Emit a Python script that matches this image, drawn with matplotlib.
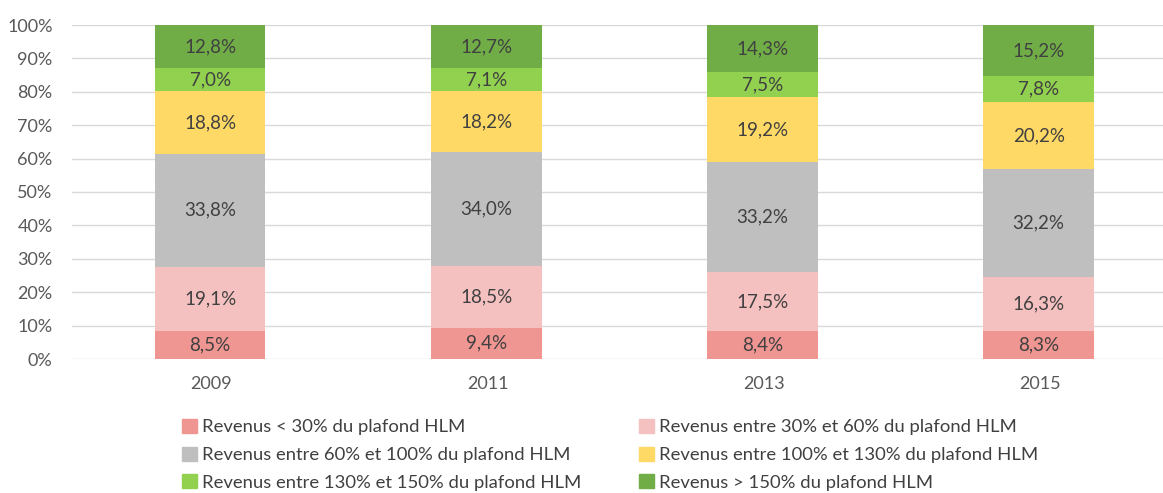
import matplotlib
matplotlib.use("Agg")
import matplotlib.pyplot as plt
from matplotlib.patches import Patch
import numpy as np

years = ["2009", "2011", "2013", "2015"]
series_names = [
    "Revenus < 30% du plafond HLM",
    "Revenus entre 30% et 60% du plafond HLM",
    "Revenus entre 60% et 100% du plafond HLM",
    "Revenus entre 100% et 130% du plafond HLM",
    "Revenus entre 130% et 150% du plafond HLM",
    "Revenus > 150% du plafond HLM",
]
s_lt30 = [8.5, 9.4, 8.4, 8.3]
s_30_60 = [19.1, 18.5, 17.5, 16.3]
s_60_100 = [33.8, 34.0, 33.2, 32.2]
s_100_130 = [18.8, 18.2, 19.2, 20.2]
s_130_150 = [7.0, 7.1, 7.5, 7.8]
s_gt150 = [12.8, 12.7, 14.3, 15.2]
series = [s_lt30, s_30_60, s_60_100, s_100_130, s_130_150, s_gt150]
colors = ["#EF9592", "#F5C0C0", "#BFBFBF", "#FFD966", "#92D050", "#70AD47"]

plt.rcParams['font.family'] = ['Lato', 'DejaVu Sans']

fig = plt.figure(figsize=(11.63, 4.93), dpi=100)
ax = fig.add_axes([72/1163, (493-359)/493, 1 - 72/1163, (359-25)/493])

x = np.arange(len(years))
bottom = np.zeros(len(years))
for vals, col in zip(series, colors):
    v = np.array(vals)
    ax.bar(x, v, 0.4, bottom=bottom, color=col, zorder=3)
    for xi, b, vi in zip(x, bottom, v):
        ax.text(xi, b + vi / 2, f"{vi:.1f}%".replace(".", ","), ha="center", va="center",
                fontsize=13.5, color="#404040", zorder=4)
    bottom += v

ax.set_ylim(0, 100)
ax.set_xlim(-0.5, 3.45)
ax.set_yticks(np.arange(0, 101, 10))
ax.set_yticklabels([f"{t}%" for t in range(0, 101, 10)], fontsize=13, color="#595959")
ax.set_xticks(x + 0.005)
ax.set_xticklabels(years, fontsize=13, color="#595959")
ax.tick_params(axis="y", length=0, pad=14)
ax.tick_params(axis="x", length=0, pad=12)
ax.grid(axis="y", color="#D9D9D9", linewidth=1, zorder=0)
for s in ax.spines.values():
    s.set_visible(False)

handles = [Patch(color=c) for c in colors]
order = [0, 2, 4, 1, 3, 5]
leg = fig.legend([handles[i] for i in order], [series_names[i] for i in order],
                 ncol=2, loc="upper left", bbox_to_anchor=(182/1163, 1 - 419/493),
                 frameon=False, fontsize=13.3, labelcolor="#404040",
                 handlelength=0.8, handleheight=0.8, handletextpad=0.3,
                 columnspacing=3.1, labelspacing=0.6, borderaxespad=0, borderpad=0)

fig.savefig("out.png", dpi=100)
